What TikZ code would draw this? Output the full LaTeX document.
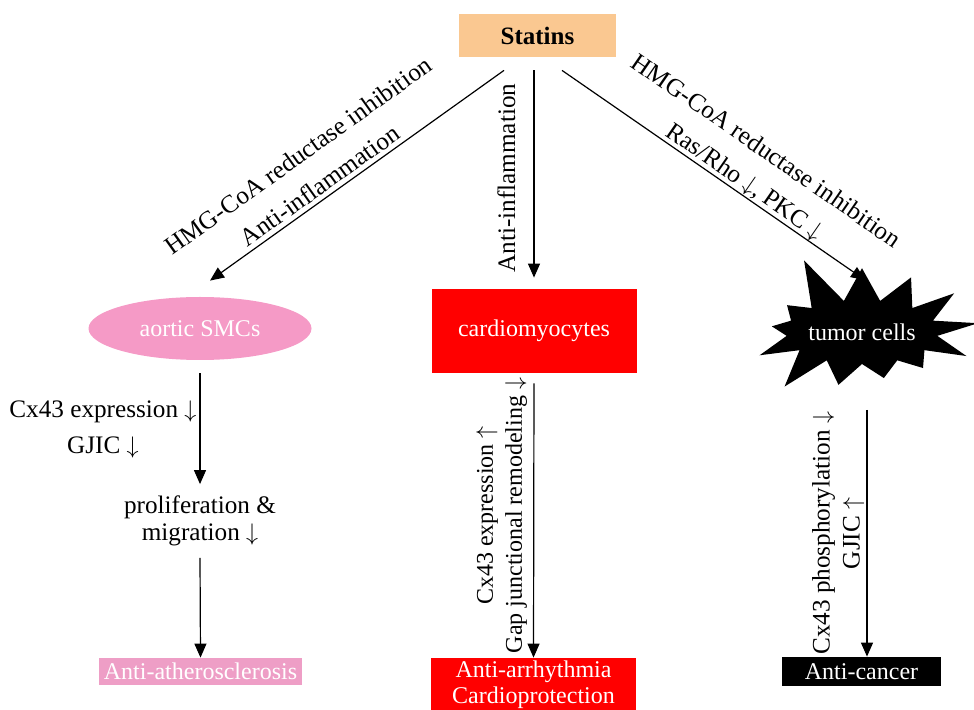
\documentclass[tikz,border=0pt]{standalone}
\usepackage{fontspec}
\setmainfont{Liberation Serif}
\usepackage{tikz}
\usetikzlibrary{shapes.geometric,shapes.symbols,arrows.meta,positioning,calc}

\definecolor{statpeach}{HTML}{FAC891}
\definecolor{smcpink}{HTML}{F59AC6}
\definecolor{athpink}{HTML}{EE9EC6}
\definecolor{cmred}{HTML}{FF0000}

\newcommand{\dn}{~$\downarrow$}
\newcommand{\upp}{~$\uparrow$}

\begin{document}
\begin{tikzpicture}[
  x=0.5pt, y=-0.5pt,
  every node/.style = {font=\fontsize{12}{14}\selectfont},
  statbox/.style = {fill=statpeach, minimum width=78.5pt, minimum height=21.5pt,
                    font=\fontsize{12.5}{14}\selectfont\bfseries},
  cell/.style    = {text=white, minimum width=102.5pt, minimum height=42pt},
  endbox/.style  = {text=white, align=center, inner sep=0pt,
                    minimum width=102.5pt, minimum height=13.5pt},
  lab/.style     = {align=center, inner sep=0pt},
  arr/.style     = {-{Triangle[length=7pt,width=6pt]}, line width=0.6pt},
]
\useasboundingbox (0,0) rectangle (974,710);

%% --- cells -----------------------------------------------------------
\node[statbox] (stat) at (537.5,35.5) {Statins};

\node[cell, ellipse, fill=smcpink, minimum width=111.5pt, minimum height=31.5pt,
      inner sep=0pt] (smc) at (200,328.5) {aortic SMCs};
\node[cell, fill=cmred] (cm) at (534,331) {cardiomyocytes};
\node[cell, starburst, fill=black, starburst points=13,
      starburst point height=26pt, random starburst=5,
      minimum width=124pt, minimum height=84pt, inner sep=0pt] (tum) at (862,332) {tumor cells};

%% --- outcomes --------------------------------------------------------
\node[lab, minimum height=36.5pt, font=\fontsize{12.6}{13.5}\selectfont] (prolif) at (200,521)
  {proliferation \&\\migration\dn};

\node[endbox, fill=athpink, minimum width=101.5pt] (ath) at (200.5,671.5) {Anti-atherosclerosis};
\node[endbox, fill=cmred, minimum height=27pt, font=\fontsize{12}{13}\selectfont] (arh) at (533.5,685)
  {Anti-arrhythmia\\Cardioprotection};
\node[endbox, fill=black, minimum width=79.5pt, minimum height=14.5pt] (canc) at (861.5,671.5) {Anti-cancer};

%% --- statins -> cells ------------------------------------------------
\draw[arr] ([xshift=-16.75pt,yshift=-6.5pt]stat.south) -- ([xshift=5pt,yshift=8pt]smc.north)
  node[lab, sloped, pos=0.6, above=2pt, font=\fontsize{12.6}{18.5}\selectfont]
  {HMG-CoA reductase inhibition\\Anti-inflammation};
\draw[arr] ([yshift=-6.5pt]stat.south -| cm.north) -- ([yshift=5.5pt]cm.north)
  node[lab, pos=0.52, rotate=90, anchor=south, inner ysep=9pt, font=\fontsize{12.6}{14}\selectfont]
  {Anti-inflammation};
\draw[arr] ([xshift=12.25pt,yshift=-6.5pt]stat.south) -- ([xshift=1.5pt,yshift=26pt]tum.center)
  node[lab, sloped, pos=0.58, above=0pt, font=\fontsize{12.6}{18.5}\selectfont]
  {HMG-CoA reductase inhibition\\Ras/Rho\dn, PKC\dn};

%% --- cells -> outcomes -----------------------------------------------
\draw[arr, shorten <=6.5pt] (smc.south) -- (prolif.north)
  node[lab, pos=0.56, left=1.5pt, font=\fontsize{12.6}{18}\selectfont] {Cx43 expression\dn\\GJIC\dn};
\draw[arr] (prolif.south) -- (ath.north);
\draw[arr, shorten <=5pt] (cm.south) -- (arh.north)
  node[lab, pos=0.5, rotate=90, anchor=south, inner ysep=3pt, font=\fontsize{12}{14.5}\selectfont]
  {Cx43 expression\upp\\Gap junctional remodeling\dn};
\draw[arr] ([xshift=2.5pt,yshift=-39pt]tum.center) -- ([xshift=2.5pt]tum.center |- canc.north)
  node[lab, pos=0.5, rotate=90, anchor=south, inner ysep=1pt, font=\fontsize{12.6}{15}\selectfont]
  {Cx43 phosphorylation\dn\\GJIC\upp};

\end{tikzpicture}
\end{document}
